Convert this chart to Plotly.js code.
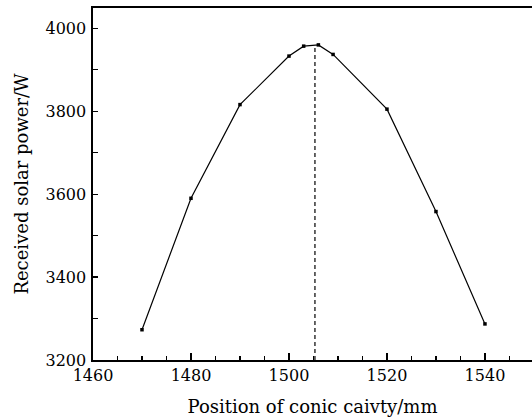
<!DOCTYPE html>
<html><head><meta charset="utf-8">
<script src="https://cdn.plot.ly/plotly-3.0.1.min.js"></script>
<style>html,body{margin:0;padding:0;background:#fff}</style>
</head><body><div id="chart" style="width:532px;height:418px"></div>
<script>
const positions = [1470, 1480, 1490, 1500, 1503, 1506, 1509, 1520, 1530, 1540];
const power = [3273, 3590, 3816, 3933, 3957, 3960, 3937, 3805, 3558, 3287];
const optimumX = [1505.3, 1505.3];
const optimumY = [3200, 3960];
const xTitle = 'Position of conic caivty/mm';
const yTitle = 'Received solar power/W';
const font = 'DejaVu Serif, serif';

const traces = [
  {x: positions, y: power, mode: 'lines+markers', type: 'scatter',
   line: {color: '#000', width: 1.2}, marker: {symbol: 'square', size: 3.5, color: '#000'}},
  {x: optimumX, y: optimumY, mode: 'lines', type: 'scatter',
   line: {color: '#000', width: 1.2, dash: '4px,3px'}}
];
const layout = {
  width: 532, height: 418, showlegend: false,
  margin: {l: 93, r: 0, t: 8, b: 58},
  paper_bgcolor: '#fff', plot_bgcolor: '#fff',
  font: {family: font, size: 16, color: '#000'},
  xaxis: {range: [1460, 1549.6], tickvals: [1460, 1480, 1500, 1520, 1540],
    ticks: 'inside', ticklen: 7, tickwidth: 1.3, tickcolor: '#000',
    minor: {dtick: 5, tick0: 1460, ticks: 'inside', ticklen: 4, tickwidth: 1.3, tickcolor: '#000', showgrid: false},
    showline: true, linecolor: '#000', linewidth: 1.6, mirror: true,
    showgrid: false, zeroline: false, ticklabelstandoff: 0,
    tickfont: {size: 16},
    title: {text: xTitle, font: {size: 18}, standoff: 16}},
  yaxis: {range: [3200, 4049], tickvals: [3200, 3400, 3600, 3800, 4000],
    ticks: 'inside', ticklen: 5, tickwidth: 1.3, tickcolor: '#000',
    minor: {dtick: 100, tick0: 3200, ticks: 'inside', ticklen: 5, tickwidth: 1.3, tickcolor: '#000', showgrid: false},
    showline: true, linecolor: '#000', linewidth: 1.6, mirror: false,
    showgrid: false, zeroline: false, ticklabelstandoff: 2,
    tickfont: {size: 16},
    title: {text: yTitle, font: {size: 18}, standoff: 12}}
};
Plotly.newPlot('chart', traces, layout, {displayModeBar: false, staticPlot: true});
</script></body></html>
